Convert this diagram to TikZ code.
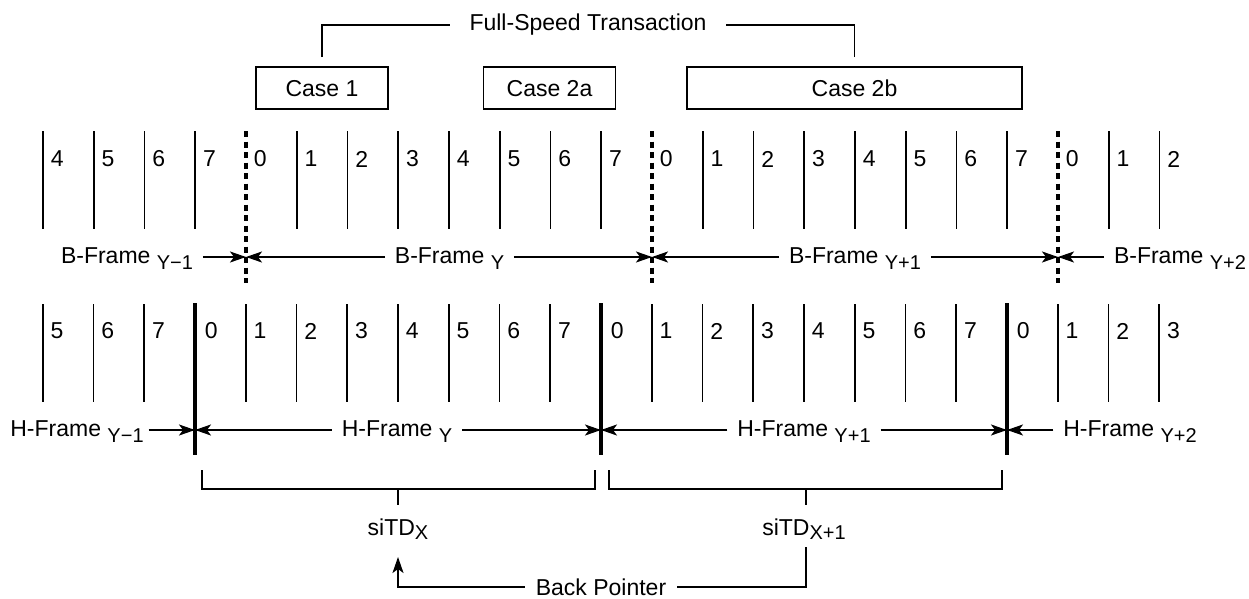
\documentclass[tikz,border=0pt]{standalone}
\usepackage{fontspec}
\setmainfont{Liberation Sans}
\usetikzlibrary{arrows.meta,positioning}
\newcommand{\lowsub}[2][6pt]{\raisebox{-#1}{\fontsize{20}{20}\selectfont #2}}
\tikzset{
  lbl/.style={font=\fontsize{23}{27}\selectfont, inner sep=0pt},
  framelbl/.style={lbl, anchor=base, inner xsep=9pt},
  casebox/.style={lbl, draw, minimum width=132pt, minimum height=42pt, text height=16.5pt, text depth=0pt},
  bbound/.style={line width=4pt, dash pattern=on 6pt off 4.5pt},
  hbound/.style={line width=4pt},
}
\begin{document}
\begin{tikzpicture}[x=1pt, y=-1pt, line width=1.8pt, >={Stealth[length=16pt,width=11pt,inset=4pt]}]
\useasboundingbox (0,0) rectangle (1249,599);

% cases and full-speed transaction
\node[casebox] (case1) at (322,88) {Case 1};
\node[casebox] (case2a) at (549.5,88) {Case 2a};
\node[casebox, minimum width=335pt] (case2b) at (854.5,88) {Case 2b};
\node[lbl, anchor=base, inner xsep=19pt] (fst) at (588,31) {Full-Speed Transaction};
\draw ([yshift=9pt]case1.north) |- (fst.west);
\draw ([yshift=9pt]case2b.north) |- (fst.east);

% B-frame microframes
\foreach \k in {-4,...,18}{
  \pgfmathtruncatemacro{\slot}{mod(\k+8,8)}
  \pgfmathtruncatemacro{\idx}{\k+4}
  \pgfmathsetmacro{\bx}{246+50.75*\k}
  \ifnum\slot=0
    \draw[bbound] (\bx,131) -- (\bx,283);
  \else
    \draw (\bx,131) -- (\bx,229);
  \fi
  \node[lbl, anchor=west] (bs\idx) at (\bx+7,159) {\slot};
}
\coordinate (b0) at (246,257);
\coordinate (b1) at (652,257);
\coordinate (b2) at (1058,257);
\node[framelbl] (bfy0) at (127,263.3) {B-Frame \lowsub{Y−1}};
\node[framelbl] (bfy1) at (449.5,263.3) {B-Frame \lowsub{Y}};
\node[framelbl] (bfy2) at (855,263.3) {B-Frame \lowsub{Y+1}};
\node[framelbl] (bfy3) at (1180,263.3) {B-Frame \lowsub{Y+2}};
\draw[->] (bfy0.east |- b0) -- (b0);
\draw[->] (bfy1.west |- b0) -- (b0);
\draw[->] (bfy1.east |- b1) -- (b1);
\draw[->] (bfy2.west |- b1) -- (b1);
\draw[->] (bfy2.east |- b2) -- (b2);
\draw[->] (bfy3.west |- b2) -- (b2);

% H-frame microframes
\foreach \j in {-3,...,19}{
  \pgfmathtruncatemacro{\slot}{mod(\j+8,8)}
  \pgfmathtruncatemacro{\idx}{\j+3}
  \pgfmathsetmacro{\hx}{195+50.75*\j}
  \ifnum\slot=0
    \draw[hbound] (\hx,303) -- (\hx,455);
    \node[lbl, anchor=west] (hs\idx) at (\hx+9,331) {\slot};
  \else
    \draw (\hx,304) -- (\hx,402);
    \node[lbl, anchor=west] (hs\idx) at (\hx+7,331) {\slot};
  \fi
}
\coordinate (h0) at (195,430);
\coordinate (h1) at (601,430);
\coordinate (h2) at (1007,430);
\node[framelbl, inner xsep=4pt] (hfy0) at (77,436.5) {H-Frame \lowsub{Y−1}};
\node[framelbl] (hfy1) at (397,436.5) {H-Frame \lowsub{Y}};
\node[framelbl] (hfy2) at (804,436.5) {H-Frame \lowsub{Y+1}};
\node[framelbl] (hfy3) at (1130,436.5) {H-Frame \lowsub{Y+2}};
\draw[->] (hfy0.east |- h0) -- (h0);
\draw[->] (hfy1.west |- h0) -- (h0);
\draw[->] (hfy1.east |- h1) -- (h1);
\draw[->] (hfy2.west |- h1) -- (h1);
\draw[->] (hfy2.east |- h2) -- (h2);
\draw[->] (hfy3.west |- h2) -- (h2);

% siTDs and back pointer
\draw (202,470) -- (202,489) -- (595,489) -- (595,470);
\draw (609,470) -- (609,489) -- (1002,489) -- (1002,470);
\coordinate (brx0) at (398,489);
\coordinate (brx1) at (806,489);
\node[lbl, anchor=base] (sitdx0) at (398,535) {siTD\lowsub[4.5pt]{X}};
\node[lbl, anchor=base] (sitdx1) at (804,535) {siTD\lowsub[4.5pt]{X+1}};
\draw[shorten >=12pt] (brx0) -- (brx0 |- sitdx0.north);
\draw[shorten >=12pt] (brx1) -- (brx1 |- sitdx1.north);
\node[lbl, anchor=base, inner xsep=10pt] (bp) at (601,595) {Back Pointer};
\coordinate (bptip) at (398,557);
\coordinate (bptop) at (806,547);
\draw[->] (bp.west) -| (bptip);
\draw (bp.east) -| (bptop);
\end{tikzpicture}
\end{document}
